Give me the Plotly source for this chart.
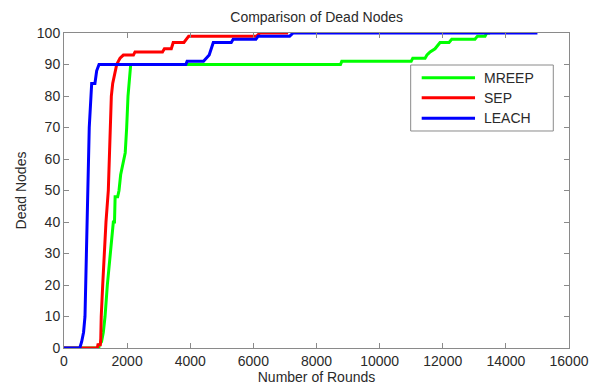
import plotly.graph_objects as go

# ---- data ----
leach_x = [0, 500, 560, 620, 665, 740, 770, 800, 855, 877, 980, 1000, 1035, 1110,
           3860, 3900, 4420, 4600, 4730, 5300, 5360, 6080, 6150, 7150, 7260, 15000]
leach_y = [0, 0, 2, 5, 10, 40, 50, 70, 80, 84, 84, 86, 88, 90,
           90, 91, 91, 93, 97, 97, 98, 98, 99, 99, 100, 100]

sep_x = [0, 1055, 1075, 1150, 1165, 1180, 1226, 1277, 1330, 1404, 1436, 1468, 1500,
         1543, 1616, 1670, 1720, 1775, 1880, 2200, 2250, 3120, 3180, 3400, 3460,
         3800, 3950, 6100, 6210, 7100]
sep_y = [0, 0, 1, 1, 3, 10, 20, 30, 40, 50, 60, 70, 80,
         84, 88, 90, 91, 92, 93, 93, 94, 94, 95, 95, 97,
         97, 99, 99, 100, 100]

mreep_x = [0, 1100, 1120, 1190, 1246, 1300, 1373, 1457, 1563, 1600, 1620, 1700, 1743,
           1795, 1830, 1900, 1940, 1986, 2028, 2113, 8760, 8800, 11000, 11050, 11440,
           11500, 11600, 11755, 11914, 12200, 12284, 13020, 13100, 13340, 13393, 13500]
mreep_y = [0, 0, 1, 2, 5, 10, 20, 30, 40, 40, 48, 48, 50,
           55, 57, 60, 62, 70, 80, 90, 90, 91, 91, 92, 92,
           93, 94, 95, 97, 97, 98, 98, 99, 99, 100, 100]

series_names = ["MREEP", "SEP", "LEACH"]
series_x = [mreep_x, sep_x, leach_x]
series_y = [mreep_y, sep_y, leach_y]
series_colors = ["#00ff00", "#ff0000", "#0000ff"]

x_ticks = list(range(0, 16001, 2000))
y_ticks = list(range(0, 101, 10))

FONT = "Liberation Sans, Arial, sans-serif"
TXT = "#2a2a2a"
AX = "#8a8a8a"

fig = go.Figure()
for name, xs, ys, col in zip(series_names, series_x, series_y, series_colors):
    fig.add_trace(go.Scatter(x=xs, y=ys, mode="lines", name=name,
                             line=dict(color=col, width=3), showlegend=False))

# legend box drawn in paper coordinates (matches MATLAB-style legend)
leg_x0, leg_x1, leg_y0, leg_y1 = 0.6865, 0.9689, 0.6889, 0.8984
line_x0, line_x1, text_x = 0.7083, 0.8139, 0.8271
row_y = [0.8581, 0.7946, 0.7292]

shapes = [dict(type="rect", xref="paper", yref="paper",
               x0=leg_x0, x1=leg_x1, y0=leg_y0, y1=leg_y1,
               line=dict(color=AX, width=1), fillcolor="white", layer="above")]
annotations = []
for name, col, ry in zip(series_names, series_colors, row_y):
    shapes.append(dict(type="line", xref="paper", yref="paper",
                       x0=line_x0, x1=line_x1, y0=ry, y1=ry,
                       line=dict(color=col, width=3), layer="above"))
    annotations.append(dict(text=name, xref="paper", yref="paper",
                            x=text_x, y=ry, xanchor="left", yanchor="middle",
                            showarrow=False,
                            font=dict(family=FONT, size=14, color=TXT)))

fig.update_layout(
    width=593, height=390,
    margin=dict(l=64, r=24, t=33, b=42),
    paper_bgcolor="white", plot_bgcolor="white",
    font=dict(family=FONT, size=14, color=TXT),
    title=dict(text="Comparison of Dead Nodes", x=0.534, xanchor="center",
               y=1 - 17.5 / 390, yanchor="middle",
               font=dict(family=FONT, size=14, color=TXT)),
    showlegend=False,
    shapes=shapes,
    annotations=annotations,
    xaxis=dict(range=[0, 16000], tickvals=x_ticks,
               ticktext=[str(v) for v in x_ticks], automargin=False,
               showgrid=False, zeroline=False, showline=True, linecolor=AX,
               linewidth=1, mirror="ticks", ticks="inside", ticklen=5,
               tickcolor=AX, tickfont=dict(size=14, color=TXT),
               title=dict(text="Number of Rounds", standoff=4,
                          font=dict(size=14, color=TXT))),
    yaxis=dict(range=[0, 100], tickvals=y_ticks,
               ticktext=[str(v) for v in y_ticks], automargin=False,
               showgrid=False, zeroline=False, showline=True, linecolor=AX,
               linewidth=1, mirror="ticks", ticks="inside", ticklen=5,
               tickcolor=AX, tickfont=dict(size=14, color=TXT),
               title=dict(text="Dead Nodes", standoff=6,
                          font=dict(size=14, color=TXT))),
)

fig.write_html("out.html")
